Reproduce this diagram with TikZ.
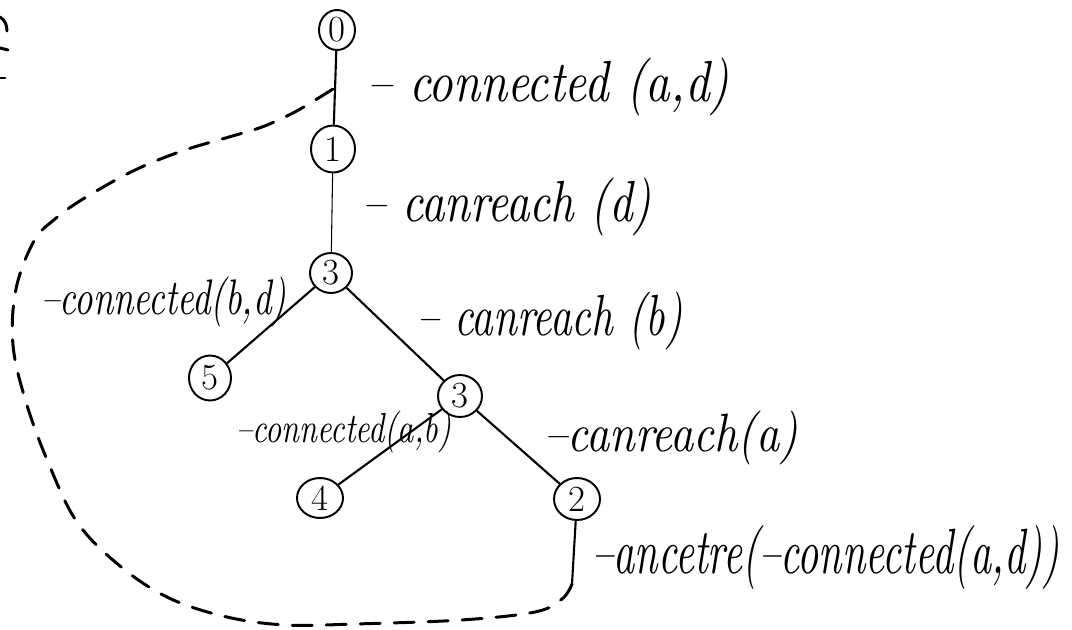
\documentclass[tikz,border=0pt]{standalone}
\usepackage{graphicx}
\usetikzlibrary{shapes.geometric}

% one unit = one pixel of the sketch
\newlength\pxu
\setlength\pxu{0.02cm}
% hand-written label squeezed into a given width and height
\newcommand\handlbl[3]{\resizebox*{#1\pxu}{#2\pxu}{\itshape #3}}

\begin{document}
\begin{tikzpicture}[x=0.02cm,y=-0.02cm,
  state/.style={draw, ellipse, line width=1.1pt, inner sep=0pt,
    minimum width=0.88cm, minimum height=0.84cm,
    font=\fontsize{21}{21}\selectfont},
  edge/.style={line width=1.2pt},
  thinedge/.style={line width=0.6pt},
  lab/.style={anchor=west, inner sep=0pt},
  back/.style={line width=1.7pt, dash pattern=on 0.4cm off 0.28cm, line cap=round},
  scrap/.style={line width=1.7pt, line cap=round}
]
\useasboundingbox (0,0) rectangle (1072,629);

% search tree
\node[state, minimum width=0.72cm, minimum height=0.8cm] (n0) at (337,30) {0};
\node[state, minimum height=0.94cm] (n1) at (333,149) {1};
\node[state, minimum width=0.84cm, minimum height=0.8cm] (n3a) at (331,273) {3};
\node[state, minimum width=0.84cm, minimum height=0.9cm] (n5) at (210,378) {5};
\node[state] (n3b) at (460,396) {3};
\node[state, minimum width=0.92cm, minimum height=0.8cm] (n4) at (320,498) {4};
\node[state, minimum width=0.92cm] (n2) at (577,499) {2};

\draw[edge] (n0) -- (n1);
\draw[thinedge] (n1) -- (n3a);
\draw[edge] (n3a) -- (n5);
\draw[edge] (n3a) -- (n3b);
\draw[edge] (n3b) -- (n4);
\draw[edge] (n3b) -- (n2);

% ancestor resolution: back to the first edge
\coordinate (tail) at (572,584);
\path (n0.south) -- (n1.north) coordinate[pos=0.5] (j);
\draw[edge] (n2) -- (tail);
\draw[back] plot[smooth, tension=0.6] coordinates {(tail) (562,599) (535,612)
  (461,620) (355,624) (286,625) (227,617) (169,598) (120,566) (77,522)
  (48,462) (26,402) (13,345) (16,289) (34,241) (55,219) (83,199) (133,171)
  (182,151) (229,137) (262,127) (291,114) (312,102) (j)};

% edge labels
\node[lab] (l1) at (367,87)  {\handlbl{362}{58}{-- connected (a,d)}};
\node[lab] (l2) at (362,207) {\handlbl{289}{58}{-- canreach (d)}};
\node[lab] (l3) at (41,302)  {\handlbl{245}{50}{--connected(b,d)}};
\node[lab] (l4) at (417,321) {\handlbl{265}{58}{-- canreach (b)}};
\node[lab] (l5) at (236,432) {\handlbl{215}{42}{--connected(a,b)}};
\node[lab] (l6) at (544,438) {\handlbl{254}{54}{--canreach(a)}};
\node[lab] (l7) at (592,557) {\handlbl{467}{64}{--ancetre(--connected(a,d))}};

% strokes cut by the left edge
\draw[scrap] (0,17) .. controls (5,20) and (7,25) .. (7,31);
\draw[scrap] (0,48) -- (8,50);
\draw[scrap] (0,78) -- (5,78);
\end{tikzpicture}
\end{document}
